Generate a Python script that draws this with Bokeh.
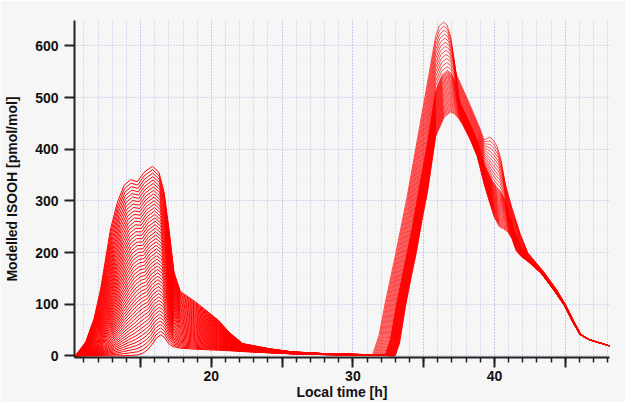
import numpy as np
from bokeh.plotting import figure
from bokeh.models import Range1d, FixedTicker, CustomJSTickFormatter
from bokeh.embed import file_html
from bokeh.resources import INLINE

# ---- data (edge runs of the model ensemble) ----
N_RUNS = 50

# first day: earliest / highest run (A1) and latest / lowest run (B1)
A1_T = [10.3, 10.4, 11.12, 11.71, 12.18, 12.53, 12.88, 13.36, 13.83, 14.3, 14.77, 15.24, 15.83,
        16.3, 16.66, 17.0, 17.36, 17.8, 18.9, 20.5, 21.25, 22.2, 24.1, 25.7, 28.0, 31.2]
A1_V = [0, 0.5, 27, 72, 130, 188, 246, 297, 330, 341, 337, 355, 367,
        355, 317, 246, 162, 125, 104, 69, 46, 24, 14, 8, 4.5, 2.5]
B1_T = [10.3, 10.4, 11.6, 12.6, 13.3, 13.8, 14.3, 14.8, 15.2, 15.5, 15.75, 16.1, 16.42,
        16.68, 16.9, 17.1, 17.3, 17.8, 18.9, 20.5, 21.3, 22.2, 24.1, 25.7, 28.0, 31.2]
B1_V = [0, 0, 0, 0, 0.2, 0.5, 1, 2, 6, 12, 20, 34, 41,
        36, 27, 21, 18, 15, 13, 11, 10, 8.5, 6, 4, 2.5, 1.3]

# second day: earliest / highest run (A2) and latest / lowest run (B2)
A2_T = [31.2, 31.4, 31.85, 32.3, 33.0, 33.85, 34.5, 35.15, 35.85, 36.1, 36.4, 36.65, 36.9,
        37.3, 38.2, 38.9, 39.27, 39.5, 39.67, 39.9, 40.2, 40.45, 40.75, 41.2, 41.8, 42.35,
        43.5, 44.4, 45.05, 45.6, 46.1, 46.7, 48.2]
A2_V = [2.5, 2.5, 40, 104, 194, 310, 410, 510, 619, 638, 646, 640, 619,
        545, 490, 445, 418, 421, 423, 418, 405, 381, 335, 290, 238, 200,
        162, 128, 98, 68, 42, 32, 19]
B2_T = [31.2, 33.0, 33.3, 33.73, 34.1, 34.44, 34.9, 35.27, 35.85, 36.45, 36.9, 37.2, 37.45,
        37.75, 38.3, 38.8, 39.3, 39.65, 40.0, 40.35, 40.65, 40.95, 41.25, 41.55, 41.9, 42.4,
        43.3, 44.2, 44.95, 45.5, 46.05, 46.7, 48.2]
B2_V = [1.3, 0.5, 25, 98, 150, 194, 265, 317, 425, 462, 472, 468, 460,
        448, 418, 385, 330, 298, 268, 250, 246, 240, 226, 203, 192, 182,
        160, 127, 97, 67, 41, 31, 19]

# position of each run between the two edge runs (day 1 evenly, day 2 denser near the low end)
MIX_DAY1 = np.linspace(0.0, 1.0, N_RUNS)
MIX_DAY2 = np.concatenate([np.linspace(0.0, 0.54, 13), np.linspace(0.555, 1.0, N_RUNS - 13)])

X_TICKS = [15, 20, 25, 30, 35, 40, 45]
X_MINOR = list(range(11, 49))
Y_TICKS = [0, 100, 200, 300, 400, 500, 600]

a1t, a1v, b1t, b1v = map(np.array, (A1_T, A1_V, B1_T, B1_V))
a2t, a2v, b2t, b2v = map(np.array, (A2_T, A2_V, B2_T, B2_V))

xs1, ys1, xs2, ys2 = [], [], [], []
for m1, m2 in zip(MIX_DAY1, MIX_DAY2):
    xs1.append(((1 - m1) * a1t + m1 * b1t).tolist())
    ys1.append(((1 - m1) * a1v + m1 * b1v).tolist())
    xs2.append(((1 - m2) * a2t + m2 * b2t).tolist())
    ys2.append(((1 - m2) * a2v + m2 * b2v).tolist())

BG = "#f6f6f6"
GRID = "#b8b8e4"
FONT = "Liberation Sans"

p = figure(width=625, height=402, x_range=Range1d(10.33, 48.13), y_range=Range1d(-3, 649),
           output_backend="svg", toolbar_location=None,
           min_border_left=74, min_border_right=16, min_border_top=20, min_border_bottom=44)
p.background_fill_color = BG
p.border_fill_color = BG
p.outline_line_color = None

p.multi_line(xs1, ys1, line_color="#ff0000", line_width=1)
p.multi_line(xs2, ys2, line_color="#ff0000", line_width=0.7)

# x axis
p.xaxis.ticker = FixedTicker(ticks=X_TICKS, minor_ticks=X_MINOR)
p.xaxis.formatter = CustomJSTickFormatter(code="return (tick % 10 == 0) ? tick.toFixed(0) : '';")
p.xaxis.axis_label = "Local time [h]"
p.xaxis.major_tick_out = 10
p.xaxis.major_tick_in = 0
p.xaxis.minor_tick_out = 5
p.xaxis.minor_tick_in = 0
p.xaxis.major_label_standoff = 3
p.xaxis.axis_label_standoff = 0

# y axis
p.yaxis.ticker = FixedTicker(ticks=Y_TICKS, minor_ticks=[])
p.yaxis.axis_label = "Modelled ISOOH [pmol/mol]"
p.yaxis.major_tick_out = 10
p.yaxis.major_tick_in = 0
p.yaxis.minor_tick_line_color = None
p.yaxis.major_label_standoff = 6
p.yaxis.axis_label_standoff = 12

for ax in (p.xaxis, p.yaxis):
    ax.axis_line_color = "#222222"
    ax.axis_line_width = 2
    ax.major_tick_line_color = "#222222"
    ax.major_tick_line_width = 2
    ax.minor_tick_line_width = 1.5
    ax.major_label_text_font = FONT
    ax.major_label_text_font_style = "bold"
    ax.major_label_text_font_size = "14px"
    ax.major_label_text_color = "#111111"
    ax.axis_label_text_font = FONT
    ax.axis_label_text_font_style = "bold"
    ax.axis_label_text_font_size = "14px"
    ax.axis_label_text_color = "#111111"

p.xaxis.minor_tick_line_color = "#222222"

p.xgrid.grid_line_color = GRID
p.xgrid.grid_line_dash = "1 2"
p.xgrid.minor_grid_line_color = GRID
p.xgrid.minor_grid_line_dash = "1 2"
p.ygrid.grid_line_color = GRID
p.ygrid.grid_line_dash = "1 2"

open("out.html", "w").write(file_html(p, INLINE))
